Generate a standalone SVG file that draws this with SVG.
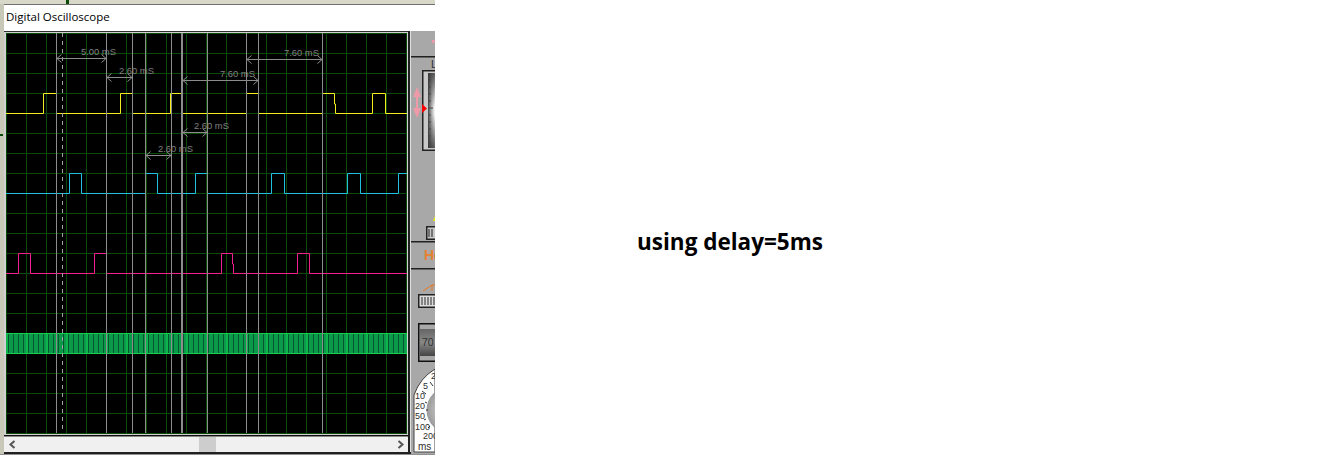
<svg xmlns="http://www.w3.org/2000/svg" width="1344" height="455" viewBox="0 0 1344 455">
<defs>
<style>
.grid{stroke:#0b4a0b;stroke-width:1;fill:none}
.cur{stroke:#8c8c8c;stroke-width:1;fill:none}
.dim{stroke:#8c8c8c;stroke-width:1;fill:none}
.lbl{font:9.400px "Liberation Sans",Arial,sans-serif;fill:#808080}
.tr{fill:none;stroke-width:1}
.pl{font-family:"Liberation Sans",Arial,sans-serif;fill:#303030}
</style>
<marker id="al" markerWidth="7" markerHeight="9" refX="0.5" refY="4.5" orient="auto" markerUnits="userSpaceOnUse"><path d="M5 .5L.5 4.500L5 8.500" fill="none" stroke="#8c8c8c"/></marker>
<marker id="ar" markerWidth="7" markerHeight="9" refX="5.5" refY="4.5" orient="auto" markerUnits="userSpaceOnUse"><path d="M1 .5L5.500 4.500L1 8.500" fill="none" stroke="#8c8c8c"/></marker>
<linearGradient id="sl" x1="0" x2="1" y1="0" y2="0"><stop offset="0" stop-color="#444"/><stop offset=".5" stop-color="#aaa"/><stop offset="1" stop-color="#fff"/></linearGradient>
<linearGradient id="sv" x1="0" x2="0" y1="0" y2="1"><stop offset="0" stop-color="#333" stop-opacity=".8"/><stop offset=".45" stop-color="#333" stop-opacity="0"/><stop offset=".55" stop-color="#333" stop-opacity="0"/><stop offset="1" stop-color="#333" stop-opacity=".8"/></linearGradient>
<linearGradient id="dg" x1="0" x2="0" y1="0" y2="1"><stop offset="0" stop-color="#666"/><stop offset=".5" stop-color="#888"/><stop offset="1" stop-color="#444"/></linearGradient>
<radialGradient id="kn"><stop offset="0" stop-color="#eee"/><stop offset="1" stop-color="#999"/></radialGradient>
<clipPath id="pc"><rect x="411" y="31" width="24" height="423"/></clipPath>
</defs>
<rect width="1344" height="455" fill="#fff"/>
<g id="window">
<rect x="0" y="0" width="435" height="4" fill="#d8d8c8"/>
<rect x="0" y="4" width="4" height="451" fill="#c8c8b8"/>
<rect x="66" y="0" width="3" height="4" fill="#0a4a0a"/>
<rect x="0" y="134" width="3" height="2" fill="#0a4a0a"/>
<rect x="4" y="4" width="431" height="1" fill="#707070"/>
<rect x="4" y="5" width="431" height="26" fill="#fff"/>
<text x="6" y="21" font-family="'Open Sans','Noto Sans',sans-serif" font-size="11.500" fill="#000">Digital Oscilloscope</text>
<rect x="4" y="31" width="406" height="405" fill="#d0d0d0"/>
<rect x="4" y="31" width="406" height="1" fill="#303030"/>
<rect x="4" y="452" width="431" height="2" fill="#202020"/>
<rect x="0" y="454" width="435" height="1" fill="#909090"/>
</g>
<g id="screen">
<rect x="6" y="33" width="401" height="401" fill="#000"/>
<path class="grid" d="M6 33.500H407M6 53.500H407M6 73.500H407M6 93.500H407M6 113.500H407M6 133.500H407M6 153.500H407M6 173.500H407M6 193.500H407M6 213.500H407M6 233.500H407M6 253.500H407M6 273.500H407M6 293.500H407M6 313.500H407M6 333.500H407M6 353.500H407M6 373.500H407M6 393.500H407M6 413.500H407M6 433.500H407"/>
<path class="grid" d="M6.500 33V434M26.500 33V434M46.500 33V434M66.500 33V434M86.500 33V434M106.500 33V434M126.500 33V434M146.500 33V434M166.500 33V434M186.500 33V434M206.500 33V434M226.500 33V434M246.500 33V434M266.500 33V434M286.500 33V434M306.500 33V434M326.500 33V434M346.500 33V434M366.500 33V434M386.500 33V434M406.500 33V434"/>
</g>
<g id="traces">
<rect x="6" y="333" width="401" height="21" fill="#0a9a4a"/>
<path fill="none" stroke="#05562e" stroke-width="19" stroke-dasharray="1 4" stroke-dashoffset="-2" d="M6 343.500H407"/>
<path fill="none" stroke="#12d050" stroke-width="21" stroke-dasharray="1 19" stroke-dashoffset="-0.500" d="M6 343.500H407"/>
<path fill="none" stroke="#12d050" d="M6 333.500H407M6 353.500H407"/>
<path class="tr" stroke="#f2ee1e" d="M6 113.500H43.500V93.500H56M57 113.500H120.500V93.500H132M133 113.500H170.500V93.500H181M183 113.500H246M247 93.500H258M259 113.500H322M323 93.500H334.500V104H335.500V113.500H372.500V93.500H385.500V113.500H407"/>
<path class="tr" stroke="#1fc0e0" d="M6 193.500H69.500V173.500H81.500V193.500H145.500V173.500H157.500V193.500H195.500V173.500H207M208 193.500H271.500V173.500H284.500V193.500H347.500V173.500H360.500V193.500H398.500V173.500H407"/>
<path class="tr" stroke="#f0208c" d="M6 273.500H18.500V253.500H30.500V273.500H94.500V253.500H106M107 273.500H221.500V253.500H232.500V264H233.500V273.500H297.500V253.500H309.500V273.500H407"/>
</g>
<g id="cursors">
<path class="cur" d="M56.500 33V433M106.500 33V433M132.500 33V433M145.500 33V433M171.500 33V433M207.500 33V433M246.500 33V433M258.500 33V433M322.500 33V433"/>
<path class="cur" style="stroke-width:2" d="M182 33V433"/>
<path class="cur" stroke-dasharray="4 4" style="stroke:#a0a0a0" d="M62.500 33V433"/>
</g>
<g id="measurements">
<path class="dim" marker-start="url(#al)" marker-end="url(#ar)" d="M57 58.500H106"/>
<text class="lbl" x="81" y="55">5.00 mS</text>
<path class="dim" marker-start="url(#al)" marker-end="url(#ar)" d="M107 77.500H132"/>
<text class="lbl" x="119" y="74">2.60 mS</text>
<path class="dim" marker-start="url(#al)" marker-end="url(#ar)" d="M183 80.500H258"/>
<text class="lbl" x="220" y="77">7.60 mS</text>
<path class="dim" marker-start="url(#al)" marker-end="url(#ar)" d="M247 59.500H322"/>
<text class="lbl" x="284" y="56">7.60 mS</text>
<path class="dim" marker-start="url(#al)" marker-end="url(#ar)" d="M183 132.500H207"/>
<text class="lbl" x="194" y="129">2.60 mS</text>
<path class="dim" marker-start="url(#al)" marker-end="url(#ar)" d="M146 155.500H171"/>
<text class="lbl" x="158" y="152">2.60 mS</text>
</g>
<g id="scrollbar">
<rect x="4" y="437" width="406" height="15" fill="#f0f0f0"/>
<rect x="4" y="435" width="406" height="1.500" fill="#101010"/>
<rect x="199" y="437" width="17" height="15" fill="#cdcdcd"/>
<path d="M14.500 441L10.500 444.500L14.500 448" fill="none" stroke="#555" stroke-width="2"/>
<path d="M398.500 441L402.500 444.500L398.500 448" fill="none" stroke="#555" stroke-width="2"/>
</g>
<g id="panel" clip-path="url(#pc)">
<rect x="411" y="31" width="24" height="423" fill="#a8a8a8"/>
<rect x="411" y="56" width="24" height="1.500" fill="#202020"/>
<rect x="411" y="241" width="24" height="1.500" fill="#202020"/>
<rect x="411" y="268" width="24" height="1.500" fill="#202020"/>
<rect x="432" y="40" width="3" height="3" fill="#e89aa8"/>
<text class="pl" x="431" y="68" font-size="11">L</text>
<rect x="422" y="70" width="13" height="81" fill="#222"/>
<rect x="423.500" y="71.500" width="11.500" height="78" fill="#c8c8c8"/>
<rect x="428" y="73" width="7" height="75" fill="url(#sl)"/>
<rect x="428" y="73" width="7" height="75" fill="url(#sv)"/>
<path d="M428.500 80H431M428.500 87H431M428.500 94H431M428.500 101H431M428.500 108H433M428.500 115H431M428.500 122H431M428.500 129H431M428.500 136H431M428.500 143H431" stroke="#444"/>
<path d="M422 104V113L427 108.500Z" fill="#f00"/>
<path d="M417 87L413 97H416V108H413L417 118L421 108H418V97H421Z" fill="#ee9aa8"/>
<rect x="426" y="226" width="9" height="14" fill="#222"/>
<rect x="427.500" y="227.500" width="7.500" height="11" fill="#c8c8c8"/>
<path d="M429 229V237M432 229V237" stroke="#555" stroke-width="1.500"/>
<path d="M433 221L435 216V221Z" fill="#eeee00"/>
<text x="424" y="260" font-family="'Liberation Sans',Arial,sans-serif" font-weight="bold" font-size="14" fill="#e88030">He</text>
<path d="M423 291L432 285H435M432 285V291" fill="none" stroke="#e87820"/>
<rect x="418" y="294" width="17" height="14" fill="#222"/>
<rect x="419.500" y="295.500" width="15.500" height="11" fill="#ddd"/>
<path d="M422 297V305M425 297V305M428 297V305M431 297V305M434 297V305" stroke="#666" stroke-width="1.500"/>
<rect x="418" y="323" width="17" height="39" fill="#111"/>
<rect x="419.500" y="324.500" width="15.500" height="36" fill="#a8a8a8"/>
<rect x="420" y="329" width="15" height="27" fill="url(#dg)"/>
<text class="pl" x="422" y="346" font-size="10.500">70</text>
<path d="M414 452V395Q420 378 435 369V452Z" fill="#fff" stroke="#444"/>
<circle cx="450" cy="410" r="23.500" fill="url(#kn)"/>
<path d="M433 386L430 382M426 394L422 391M425 402L427 403M426 410H428M424 420L426 419M428 428L430 426" stroke="#333"/>
<g class="pl" font-size="9" fill="#333">
<text x="431" y="379">2</text><text x="423" y="389">5</text><text x="415" y="399">10</text><text x="415" y="409">20</text><text x="415" y="419">50</text><text x="415" y="430">100</text><text x="423" y="439">200</text>
</g>
<text class="pl" x="418" y="450" font-size="10">ms</text>
</g>
<g id="panel-edge">
<rect x="408" y="31" width="2" height="421" fill="#202020"/>
<rect x="410" y="31" width="1" height="421" fill="#e0e0e0"/>
</g>
<text id="caption" x="637" y="250" font-family="'Open Sans','Noto Sans',sans-serif" font-weight="bold" font-size="22.500" fill="#000">using delay=5ms</text>
</svg>
